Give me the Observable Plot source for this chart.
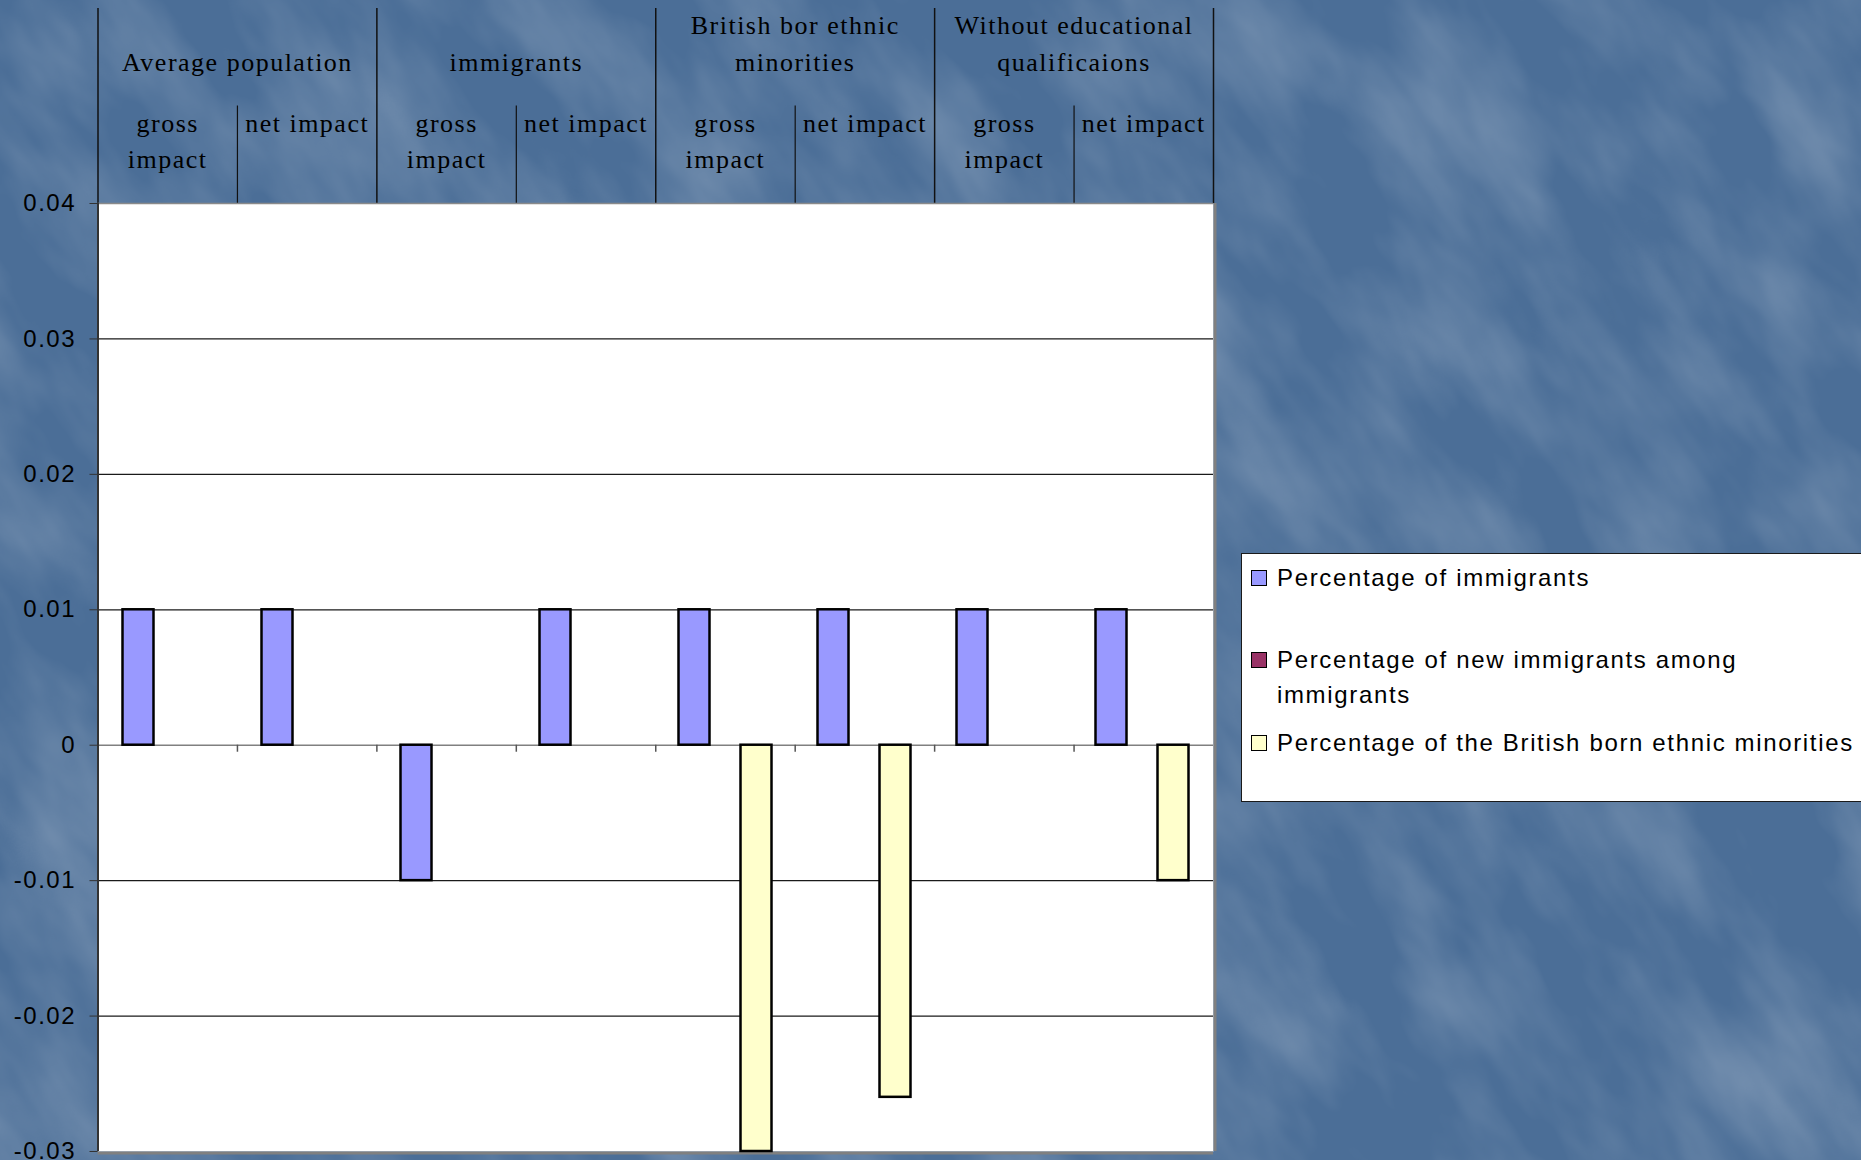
<!DOCTYPE html>
<html>
<head>
<meta charset="utf-8">
<script src="https://cdn.jsdelivr.net/npm/d3@7"></script>
<script src="https://cdn.jsdelivr.net/npm/@observablehq/plot@0.6"></script>
<style>
  html, body { margin: 0; padding: 0; }
  body { width: 1861px; height: 1160px; overflow: hidden; background: #4d7098; }
  #page { position: relative; width: 1861px; height: 1160px; overflow: hidden; }
  #page svg { position: absolute; left: 0; top: 0; max-width: none; }
  #page svg text { letter-spacing: 1.5px; }
  .legend {
    position: absolute; left: 1241px; top: 553px; width: 700px; height: 249px;
    background: #fff; border: 1.5px solid #1a1a1a; box-sizing: border-box;
    font-family: "Liberation Sans", Arial, sans-serif; font-size: 24px; letter-spacing: 1.65px; color: #000;
  }
  .legend .row { position: absolute; left: 0; white-space: pre-line; line-height: 35px; }
  .legend .sw { position: absolute; left: 9px; top: 10px; width: 16px; height: 16px; box-sizing: border-box; border: 1.5px solid #000; }
  .legend .lab { position: absolute; left: 35px; top: 0; white-space: pre; }
</style>
</head>
<body>
<div id="page"></div>
<script>
// ---------- data ----------
const groups = ["Average population", "immigrants", "British bor ethnic\nminorities", "Without educational\nqualificaions"];
const subLabels = ["gross\nimpact", "net impact"];
const categories = groups.flatMap(g => subLabels.map(s => g.replace("\n", " ") + " | " + s.replace("\n", " ")));

const series = [
  "Percentage of immigrants",
  "Percentage of new immigrants among immigrants",
  "Percentage of the British born ethnic minorities"
];
const legendLabels = [
  "Percentage of immigrants",
  "Percentage of new immigrants among\nimmigrants",
  "Percentage of the British born ethnic minorities"
];
const seriesColors = ["#9999ff", "#993366", "#ffffcc"];

const immigrantsValues    = [0.01, 0.01, -0.01, 0.01, 0.01, 0.01, 0.01, 0.01];
const newImmigrantsValues = [null, null, null, null, null, null, null, null];
const britishBornValues   = [null, null, null, null, -0.03, -0.026, null, -0.01];

const yTicks = [0.04, 0.03, 0.02, 0.01, 0, -0.01, -0.02, -0.03];
const yTickLabels = ["0.04", "0.03", "0.02", "0.01", "0", "-0.01", "-0.02", "-0.03"];
const yDomain = [-0.03, 0.04];

// ---------- table ----------
const seriesValues = [immigrantsValues, newImmigrantsValues, britishBornValues];
const table = series.flatMap((s, si) =>
  seriesValues[si].map((v, ci) => ({cat: categories[ci], series: s, value: v}))
).filter(d => d.value != null);

// ---------- layout ----------
const W = 1861, H = 1160;
const mLeft = 97.5, mRight = 648, mTop = 203, mBottom = 9;
const sans = "'Liberation Sans', Arial, sans-serif";
const serif = "'Liberation Serif', 'Times New Roman', serif";
const page = document.getElementById("page");

// subtle textured background
const noiseSvg = `<svg xmlns='http://www.w3.org/2000/svg' width='${W}' height='${H}'>
<filter id='n' x='0' y='0' width='100%' height='100%'><feTurbulence type='fractalNoise' baseFrequency='0.012 0.005' numOctaves='4' seed='11'/>
<feColorMatrix values='0 0 0 0 1  0 0 0 0 1  0 0 0 0 1  0.4 0 0 0 -0.15'/></filter>
<rect x='-800' y='-800' width='3400' height='2800' filter='url(#n)' transform='rotate(-35 930 580)'/></svg>`;
page.style.background = `#4b6e97 url("data:image/svg+xml,${encodeURIComponent(noiseSvg)}")`;

const nCat = categories.length;
const bounds = d3.range(0, nCat + 1);
const groupBounds = bounds.filter(b => b % 2 === 0);
const subBounds = bounds.filter(b => b % 2 === 1);

// ---------- header (category labels above the plot) ----------
const header = Plot.plot({
  width: W, height: mTop,
  marginLeft: mLeft, marginRight: mRight, marginTop: 8, marginBottom: 0,
  x: {domain: [0, nCat], axis: null},
  y: {domain: [0, 2], axis: null},
  style: {background: "transparent", overflow: "visible", fontFamily: serif, fontSize: "26px", color: "#000"},
  marks: [
    Plot.ruleX(groupBounds, {y1: 0, y2: 2, stroke: "#111", strokeWidth: 1.5}),
    Plot.ruleX(subBounds, {y1: 0, y2: 1, stroke: "#111", strokeWidth: 1.2}),
    Plot.text(groups, {x: (d, i) => 2 * i + 1, y: 1.354, text: d => d, lineAnchor: "bottom", lineHeight: 1.46, fill: "#000", fontSize: 26}),
    Plot.text(categories, {x: (d, i) => i + 0.5, y: 1, text: (d, i) => subLabels[i % 2], lineAnchor: "top", lineHeight: 1.385, fill: "#000", fontSize: 26})
  ]
});
page.appendChild(header);

// ---------- plot area background, grid, y axis ----------
const gridVals = yTicks.filter(t => t !== 0 && t !== yDomain[0] && t !== yDomain[1]);
const frame = Plot.plot({
  width: W, height: H,
  marginLeft: mLeft, marginRight: mRight, marginTop: mTop, marginBottom: mBottom,
  x: {domain: [0, nCat], axis: null},
  y: {domain: yDomain, axis: null},
  style: {background: "transparent", overflow: "visible", fontFamily: sans, fontSize: "24px", color: "#000"},
  marks: [
    Plot.frame({fill: "white", stroke: null}),
    Plot.ruleY(gridVals, {stroke: "#1a1a1a", strokeWidth: 1.3}),
    Plot.ruleY([yDomain[1]], {stroke: "#8a8a8a", strokeWidth: 1.5}),
    Plot.ruleY([0], {stroke: "#808080", strokeWidth: 1.5}),
    Plot.ruleX(bounds.slice(1, -1), {y1: 0, y2: 0, insetBottom: -7, stroke: "#555", strokeWidth: 1.5}),
    Plot.ruleY([yDomain[0]], {stroke: "#808080", strokeWidth: 3, dy: 1.5}),
    Plot.ruleX([nCat], {stroke: "#808080", strokeWidth: 3, dx: 1.5}),
    Plot.ruleX([0], {stroke: "#333", strokeWidth: 2}),
    Plot.axisY(yTicks, {
      tickFormat: d => yTickLabels[yTicks.indexOf(d)],
      tickSize: 8, tickPadding: 14, fontSize: 24, fill: "#000", stroke: "#333"
    })
  ]
});
page.appendChild(frame);

// ---------- bars ----------
const bars = Plot.plot({
  width: W, height: H,
  marginLeft: mLeft, marginRight: mRight, marginTop: mTop, marginBottom: mBottom,
  fx: {domain: categories, padding: 0, axis: null, label: null},
  x: {type: "band", domain: series, paddingInner: 0, paddingOuter: 0.72, axis: null},
  y: {domain: yDomain, axis: null},
  color: {domain: series, range: seriesColors},
  style: {background: "transparent", overflow: "visible"},
  marks: [
    Plot.barY(table, {fx: "cat", x: "series", y: "value", fill: "series", stroke: "#000", strokeWidth: 2.5})
  ]
});
page.appendChild(bars);

// ---------- legend ----------
const legend = document.createElement("div");
legend.className = "legend";
const rowTops = [5.5, 87.5, 170.5];
series.forEach((s, i) => {
  const row = document.createElement("div");
  row.className = "row";
  row.style.top = rowTops[i] + "px";
  const sw = document.createElement("div");
  sw.className = "sw";
  sw.style.background = seriesColors[i];
  const lab = document.createElement("div");
  lab.className = "lab";
  lab.textContent = legendLabels[i];
  row.appendChild(sw);
  row.appendChild(lab);
  legend.appendChild(row);
});
page.appendChild(legend);
</script>
</body>
</html>
